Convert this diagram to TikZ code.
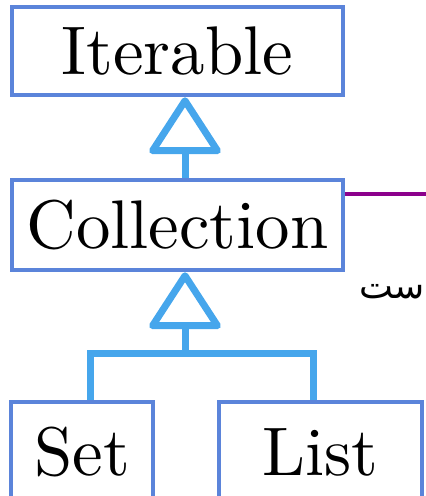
\documentclass[tikz,border=0pt]{standalone}
\usepackage{fontspec}
\usepackage{tikz}
\usetikzlibrary{arrows.meta}
\newfontfamily\lmten{lmroman10-regular}[Extension=.otf]
\newfontfamily\arabicfont[Script=Arabic]{DejaVu Sans}
\TeXXeTstate=1
\definecolor{boxblue}{RGB}{91,132,218}
\definecolor{linkblue}{RGB}{70,166,236}
\definecolor{assocpurple}{RGB}{140,0,140}
\tikzset{
  classbox/.style={draw=boxblue, line width=4.5pt, inner sep=0pt, text height=47pt, text depth=0pt,
    font=\lmten\fontsize{68.8}{80}\selectfont},
  link/.style={draw=linkblue, line width=7pt},
  inherit/.style={link, -{Triangle[open, line width=7pt, length=60pt, width=76pt, round]}}
}

\begin{document}
\begin{tikzpicture}[x=1pt, y=-1pt]
\useasboundingbox (0,0) rectangle (426,496);
\clip (0,0) rectangle (426,496);
% classes
\node [classbox, minimum width=331pt, minimum height=88pt] (iter) at (177.5,51) {Iterable};
\node [classbox, minimum width=331pt, minimum height=90pt] (coll) at (177.5,225) {Collection};
\node [classbox, minimum width=142pt, minimum height=100pt] (set) at (82,452) {Set};
\node [classbox, minimum width=203pt, minimum height=100pt] (list) at (320.5,452) {List};
% inheritance
\coordinate (bus) at (185,353);
\draw [inherit] (coll.north -| bus) -- (iter.south -| bus);
\draw [inherit] (bus) -- (coll.south -| bus);
\draw [link] ([xshift=8pt]set.north) |- (bus) -| ([xshift=-7pt]list.north);
% association going off the right
\coordinate (assocend) at (430,194);
\draw [assocpurple, line width=3.5pt] (coll.east |- assocend) -- (assocend);
\node [anchor=base east, inner sep=0pt, font=\arabicfont\fontsize{36}{42}\selectfont] (note) at (425,298) {\beginR ست\endR};
\end{tikzpicture}
\end{document}
